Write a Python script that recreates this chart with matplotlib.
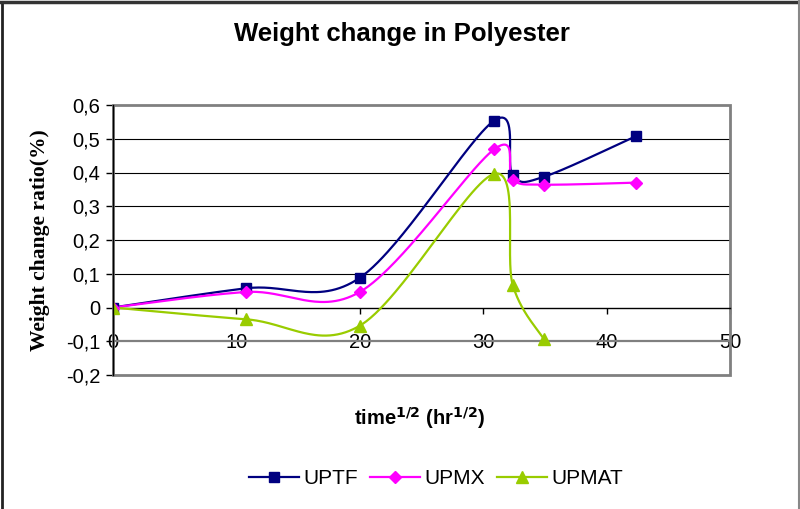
import numpy as np
import matplotlib
matplotlib.use('Agg')
import matplotlib.pyplot as plt
import matplotlib.patches as patches
from matplotlib.lines import Line2D

# ---------------------------------------------------------------------------
# Data
# ---------------------------------------------------------------------------
x_uptf  = [0, 10.8, 20.0, 30.9, 32.4, 34.9, 42.4]
y_uptf  = [0, 0.057, 0.088, 0.554, 0.392, 0.387, 0.508]

x_upmx  = [0, 10.8, 20.0, 30.9, 32.4, 34.9, 42.4]
y_upmx  = [0, 0.046, 0.046, 0.469, 0.378, 0.364, 0.370]

x_upmat = [0, 10.8, 20.0, 30.9, 32.4, 34.9]
y_upmat = [0, -0.035, -0.054, 0.396, 0.066, -0.093]

series_names = ['UPTF', 'UPMX', 'UPMAT']

x_ticks = [0, 10, 20, 30, 40, 50]
y_ticks = [-0.2, -0.1, 0, 0.1, 0.2, 0.3, 0.4, 0.5, 0.6]
y_tick_labels = ['-0,2', '-0,1', '0', '0,1', '0,2', '0,3', '0,4', '0,5', '0,6']


def smooth(xs, ys, n=60):
    """Excel-style smoothed line: Bezier segments with Catmull-Rom controls."""
    p = np.column_stack([xs, ys]).astype(float)
    ext = np.vstack([p[0], p, p[-1]])
    t = np.linspace(0, 1, n)[:, None]
    out = []
    for i in range(len(p) - 1):
        p0, p1 = ext[i + 1], ext[i + 2]
        c1 = p0 + (ext[i + 2] - ext[i]) / 6
        c2 = p1 - (ext[i + 3] - ext[i + 1]) / 6
        seg = ((1 - t) ** 3) * p0 + 3 * ((1 - t) ** 2) * t * c1 \
            + 3 * (1 - t) * t ** 2 * c2 + t ** 3 * p1
        out.append(seg if i == 0 else seg[1:])
    out = np.vstack(out)
    return out[:, 0], out[:, 1]


plt.rcParams['font.family'] = ['Liberation Sans', 'DejaVu Sans']

fig = plt.figure(figsize=(8.0, 5.09), dpi=100)
ax = fig.add_axes([113 / 800, 1 - 375 / 509, 617 / 800, 270 / 509])

styles = [
    (x_uptf, y_uptf, '#000080', 's', 7),
    (x_upmx, y_upmx, '#FF00FF', 'D', 6),
    (x_upmat, y_upmat, '#99CC00', '^', 8),
]
handles = []
for (xs, ys, col, mk, ms), name in zip(styles, series_names):
    sx, sy = smooth(xs, ys)
    ax.plot(sx, sy, color=col, lw=1.6, zorder=3)
    ax.plot(xs, ys, ls='none', marker=mk, ms=ms, color=col, zorder=4)
    handles.append(Line2D([], [], color=col, lw=1.6, marker=mk, ms=ms, label=name))

ax.set_xlim(0, 50)
ax.set_ylim(-0.2, 0.6)
ax.set_xticks(x_ticks)
ax.set_xticklabels([str(v) for v in x_ticks])
ax.set_yticks(y_ticks)
ax.set_yticklabels(y_tick_labels)

# axes styling: x axis sits at y = 0, plot-area border in grey
for s in ['top', 'right']:
    ax.spines[s].set_visible(False)
ax.spines['bottom'].set_position(('data', 0))
ax.spines['bottom'].set_color('black')
ax.spines['bottom'].set_linewidth(1.0)
ax.spines['left'].set_color('black')
ax.spines['left'].set_linewidth(1.0)
ax.spines['left'].set_zorder(5)
ax.add_patch(patches.Rectangle((0, 0), 1, 1, transform=ax.transAxes, fill=False,
                               edgecolor='#808080', lw=2.0, clip_on=False, zorder=1))

ax.tick_params(axis='y', direction='out', length=5, width=1, pad=4, labelsize=14.5)
ax.tick_params(axis='x', direction='out', length=4, width=1, pad=14, labelsize=14.5)

ax.grid(axis='y', color='black', lw=0.8, zorder=0)
ax.set_axisbelow(True)
for tk, v in zip(ax.yaxis.get_major_ticks(), y_ticks):
    if v == -0.1:
        tk.gridline.set_color('#808080')
        tk.gridline.set_linewidth(1.6)
    if v in (-0.2, 0.6, 0):
        tk.gridline.set_visible(False)

fig.text(402 / 800, 1 - 34 / 509, 'Weight change in Polyester', ha='center', va='center',
         fontsize=18.5, fontweight='bold')
fig.text(420 / 800, 1 - 418 / 509, r'time$^{\mathbf{1/2}}$ (hr$^{\mathbf{1/2}}$)', ha='center',
         va='center', fontsize=14.5, fontweight='bold')
fig.text(40 / 800, 1 - 240 / 509, 'Weight change ratio(%)', rotation=90, ha='center',
         va='center', fontsize=15.5, fontweight='bold', family=['Liberation Serif'])

fig.legend(handles=handles, loc='center', bbox_to_anchor=(436 / 800, 1 - 479 / 509),
           ncol=3, frameon=False, fontsize=15, handlelength=2.4, handletextpad=0.2,
           columnspacing=0.6)

# outer chart border (top/left dark, right grey)
fig.add_artist(Line2D([0.003, 0.003], [0, 0.997], transform=fig.transFigure, color='#222222', lw=2))
fig.add_artist(Line2D([0, 1], [0.997, 0.997], transform=fig.transFigure, color='#333333', lw=2.5))
fig.add_artist(Line2D([0.9985, 0.9985], [0, 1], transform=fig.transFigure, color='#888888', lw=1.5))

fig.savefig('out.png', dpi=100)
